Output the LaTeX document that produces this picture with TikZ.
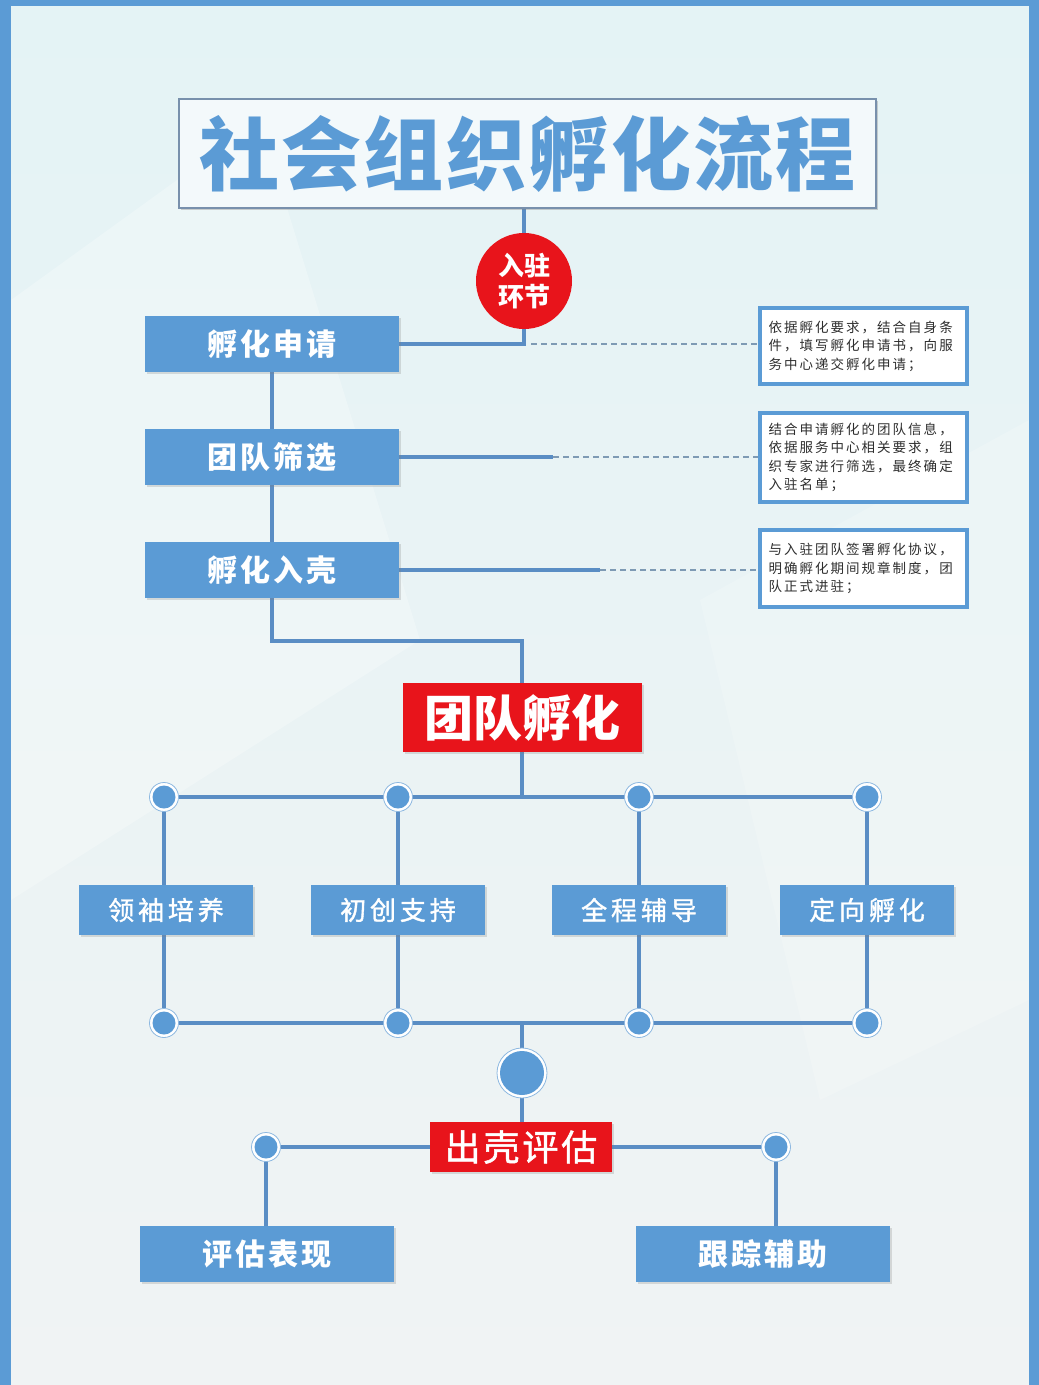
\documentclass[tikz,border=0pt]{standalone}
\usepackage{fontspec}
\newfontfamily\cjk{Noto Sans CJK SC}
\newfontfamily\cjktitle{Noto Sans CJK SC}[LetterSpace=3]
\newfontfamily\cjksp{Noto Sans CJK SC}[LetterSpace=15]
\newfontfamily\cjkspfb{Noto Sans CJK SC}[LetterSpace=15, FakeBold=1.4]
\newfontfamily\cjkspm{Noto Sans CJK SC}[LetterSpace=10]
\newfontfamily\cjkspmfb{Noto Sans CJK SC}[LetterSpace=8, FakeBold=1.4]
\usetikzlibrary{shadows,calc}
\definecolor{boxblue}{HTML}{5B9BD5}
\definecolor{linecol}{HTML}{5A8DC4}
\definecolor{frameblue}{HTML}{5B9BD5}
\definecolor{redfill}{HTML}{E8141B}
\definecolor{dashcol}{HTML}{7E9AB4}
\definecolor{titlefill}{HTML}{F3F9FB}
\definecolor{titleborder}{HTML}{7890AC}
\definecolor{ringcol}{HTML}{8DB8E0}
\definecolor{bgtop}{HTML}{E4F3F5}
\definecolor{bgbot}{HTML}{F0F3F4}
\definecolor{infotext}{HTML}{2E2E2E}
\pgfdeclarelayer{back}
\pgfdeclarelayer{lines}
\pgfsetlayers{back,lines,main}
\tikzset{
  titlebox/.style={rectangle, fill=titlefill, draw=titleborder, line width=1.5pt,
    minimum width=697pt, minimum height=109pt, inner sep=0pt, text=boxblue,
    font=\cjktitle\bfseries\fontsize{80}{80}\selectfont,
    drop shadow={shadow xshift=2pt, shadow yshift=-2pt, opacity=0.35}},
  entrycircle/.style={circle, fill=redfill, minimum size=96pt, inner sep=0pt,
    text=white, align=center, font=\cjk\bfseries\fontsize{26}{31}\selectfont},
  mainbox/.style={rectangle, fill=boxblue, minimum width=254pt, minimum height=56pt,
    inner sep=0pt, text=white, font=\cjkspm\bfseries\fontsize{30}{30}\selectfont,
    drop shadow={shadow xshift=2pt, shadow yshift=-2pt, opacity=0.25}},
  subbox/.style={rectangle, fill=boxblue, minimum width=174pt, minimum height=50pt,
    inner sep=0pt, text=white, font=\cjkspfb\fontsize{26}{26}\selectfont,
    drop shadow={shadow xshift=2pt, shadow yshift=-2pt, opacity=0.25}},
  redbox/.style={rectangle, fill=redfill, inner sep=0pt, text=white,
    drop shadow={shadow xshift=2pt, shadow yshift=-2pt, opacity=0.25}},
  infobox/.style={rectangle, fill=white, draw=boxblue, line width=4.5pt,
    minimum width=207pt, inner sep=0pt, text width=190pt, align=left,
    text=infotext, font=\cjksp\fontsize{13.5}{18.5}\selectfont,
    drop shadow={shadow xshift=1.5pt, shadow yshift=-1.5pt, opacity=0.25}},
  dot/.style={circle, minimum size=#1, inner sep=0pt, draw=ringcol, line width=0.8pt,
    fill=white, path picture={\fill[boxblue] (path picture bounding box.center) circle ({#1/2-3pt});}},
  dot/.default=29pt,
  conn/.style={draw=linecol, line width=3.2pt},
  dashconn/.style={draw=dashcol, line width=1.3pt, dash pattern=on 6pt off 4pt},
}
\begin{document}
\begin{tikzpicture}[x=1pt,y=-1pt]
\useasboundingbox (0,0) rectangle (1039,1385);
\begin{pgfonlayer}{back}
  \shade[top color=bgtop, bottom color=bgbot] (0,0) rectangle (1039,1385);
  \fill[white, opacity=0.25] (11,300) -- (260,120) -- (420,640) -- (11,900) -- cycle;
  \fill[white, opacity=0.18] (700,600) -- (1029,420) -- (1029,1000) -- (820,1100) -- cycle;
  \fill[frameblue] (0,0) rectangle (11,1385);
  \fill[frameblue] (0,0) rectangle (1039,6);
  \fill[frameblue] (1029,0) rectangle (1039,1385);
\end{pgfonlayer}

% title and entry
\node[titlebox] (title) at (527.5,153.5) {社会组织孵化流程};
\node[entrycircle] (entry) at (524,281) {入驻\\环节};

% left column
\node[mainbox] (apply) at (272,344) {孵化申请};
\node[mainbox] (screen) at (272,457) {团队筛选};
\node[mainbox] (enter) at (272,570) {孵化入壳};

% info boxes
\node[infobox, minimum height=76pt] (info1) at (863.5,346) {依据孵化要求，结合自身条\\件，填写孵化申请书，向服\\务中心递交孵化申请；};
\node[infobox, minimum height=89pt] (info2) at (863.5,457.5) {结合申请孵化的团队信息，\\依据服务中心相关要求，组\\织专家进行筛选，最终确定\\入驻名单；};
\node[infobox, minimum height=77pt] (info3) at (863.5,568.5) {与入驻团队签署孵化协议，\\明确孵化期间规章制度，团\\队正式进驻；};

% incubation
\node[redbox, minimum width=239pt, minimum height=69pt,
  font=\cjk\bfseries\fontsize{49}{49}\selectfont] (incub) at (522,717.5) {团队孵化};

\node[dot] (d1) at (164,797) {};
\node[dot] (d2) at (398,797) {};
\node[dot] (d3) at (639,797) {};
\node[dot] (d4) at (867,797) {};

\node[subbox] (s1) at (166,910) {领袖培养};
\node[subbox] (s2) at (398,910) {初创支持};
\node[subbox] (s3) at (639,910) {全程辅导};
\node[subbox] (s4) at (867,910) {定向孵化};

\node[dot] (e1) at (164,1023) {};
\node[dot] (e2) at (398,1023) {};
\node[dot] (e3) at (639,1023) {};
\node[dot] (e4) at (867,1023) {};

\node[dot=50pt] (big) at (522,1073) {};

\node[redbox, minimum width=182pt, minimum height=50pt,
  font=\cjkspmfb\fontsize{36}{36}\selectfont] (exit) at (521,1147) {出壳评估};

\node[dot] (f1) at (266,1147) {};
\node[dot] (f2) at (776,1147) {};

\node[mainbox] (eval) at (267,1254) {评估表现};
\node[mainbox] (track) at (763,1254) {跟踪辅助};

\coordinate (c2) at (553,457);
\coordinate (c3) at (600,570);
\coordinate (bend) at (522,641);

\begin{pgfonlayer}{lines}
  \draw[conn] (title.south -| entry.north) -- (entry.north);
  \draw[conn] (entry.south) |- (apply.east);
  \draw[dashconn] ($(entry.south |- apply.east)+(7,0)$) -- (info1.west |- apply.east);
  \draw[conn] (screen.east) -- (c2);
  \draw[dashconn] (c2) -- (info2.west |- c2);
  \draw[conn] (enter.east) -- (c3);
  \draw[dashconn] (c3) -- (info3.west |- c3);
  \draw[conn] (apply.south) -- (screen.north);
  \draw[conn] (screen.south) -- (enter.north);
  \draw[conn] (enter.south) |- (bend) -- (incub.north);
  \draw[conn] (incub.south) -- (incub.south |- d1);
  \draw[conn] (d1) -- (d4);
  \draw[conn] (d1) -- (d1 |- s1.north);
  \draw[conn] (d2) -- (s2.north);
  \draw[conn] (d3) -- (s3.north);
  \draw[conn] (d4) -- (s4.north);
  \draw[conn] (e1 |- s1.south) -- (e1);
  \draw[conn] (s2.south) -- (e2);
  \draw[conn] (s3.south) -- (e3);
  \draw[conn] (s4.south) -- (e4);
  \draw[conn] (e1) -- (e4);
  \draw[conn] (big |- e1) -- (big);
  \draw[conn] (big) -- (big |- exit.north);
  \draw[conn] (f1) -- (exit.west);
  \draw[conn] (exit.east) -- (f2);
  \draw[conn] (f1) -- (f1 |- eval.north);
  \draw[conn] (f2) -- (f2 |- track.north);
\end{pgfonlayer}
\end{tikzpicture}
\end{document}
